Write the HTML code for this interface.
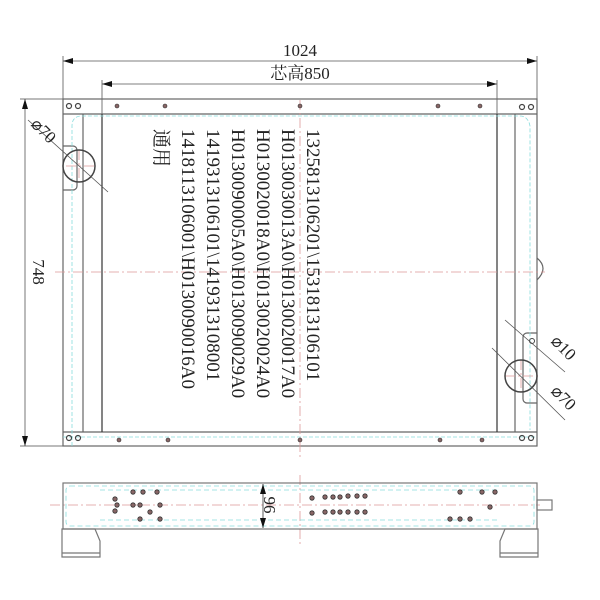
<!DOCTYPE html>
<html><head><meta charset="utf-8"><style>
html,body{margin:0;padding:0;background:#fff;width:600px;height:600px;overflow:hidden}
svg{display:block}
.t{font-family:"Liberation Serif","Noto Serif CJK SC",serif;fill:#222}
</style></head><body>
<svg width="600" height="600" viewBox="0 0 600 600" xmlns="http://www.w3.org/2000/svg">
<defs>
<marker id="a" viewBox="0 0 10 6" refX="10" refY="3" markerWidth="10" markerHeight="6" orient="auto-start-reverse" markerUnits="userSpaceOnUse"><path d="M0,0L10,3L0,6z" fill="#111"/></marker>
</defs>
<g stroke="#777" stroke-width="1" fill="none">
<line x1="63" y1="56" x2="63" y2="99"/>
<line x1="537" y1="56" x2="537" y2="99"/>
<line x1="102" y1="80" x2="102" y2="114"/>
<line x1="497" y1="80" x2="497" y2="114"/>
<line x1="20" y1="99" x2="63" y2="99"/>
<line x1="20" y1="446" x2="63" y2="446"/>
</g>
<g stroke="#555" stroke-width="0.8">
<line x1="63" y1="61" x2="537" y2="61" marker-start="url(#a)" marker-end="url(#a)"/>
<line x1="102" y1="84" x2="497" y2="84" marker-start="url(#a)" marker-end="url(#a)"/>
<line x1="25" y1="99" x2="25" y2="446" marker-start="url(#a)" marker-end="url(#a)"/>
</g>
<text class="t" x="300" y="56" font-size="17" text-anchor="middle">1024</text>
<text class="t" x="300" y="79" font-size="17" text-anchor="middle">芯高850</text>
<text class="t" transform="translate(33,272) rotate(90)" font-size="17" text-anchor="middle">748</text>

<g stroke="#666" stroke-width="1.2" fill="none">
<rect x="63" y="99" width="474" height="347"/>
<line x1="63" y1="114" x2="537" y2="114"/>
<line x1="63" y1="432" x2="537" y2="432"/>
<line x1="83" y1="114" x2="83" y2="432"/>
<line x1="515" y1="114" x2="515" y2="432"/>
<line x1="102" y1="114" x2="102" y2="432" stroke="#333"/>
<line x1="497" y1="114" x2="497" y2="432" stroke="#333"/>
<path d="M63,146 h10 a4,4 0 0 1 4,4 v36 a4,4 0 0 1 -4,4 h-10"/>
<path d="M537,333 h-10 a4,4 0 0 0 -4,4 v62 a4,4 0 0 0 4,4 h10"/>
<path d="M537,258 q12,10 0,22"/>
</g>
<g stroke="#8dd" stroke-width="0.8" fill="none" stroke-dasharray="4,2">
<path d="M72,446 V126 q0,-10 10,-10 H520 q8,0 10,10 V430"/>
<line x1="63" y1="437" x2="537" y2="437"/>
</g>
<g stroke="#d99" stroke-width="0.8" stroke-dasharray="10,3,2,3" fill="none">
<line x1="55" y1="272" x2="545" y2="272"/>
<line x1="300" y1="100" x2="300" y2="460"/>
<line x1="66" y1="166" x2="94" y2="166"/>
<line x1="79" y1="150" x2="79" y2="182"/>
<line x1="505" y1="376" x2="538" y2="376"/>
<line x1="521" y1="360" x2="521" y2="392"/>
<line x1="50" y1="505" x2="540" y2="505"/>
<line x1="300" y1="475" x2="300" y2="545"/>
</g>
<g stroke="#444" stroke-width="1.5" fill="none">
<circle cx="79" cy="166" r="16"/>
<circle cx="521" cy="376" r="16"/>
<circle cx="532" cy="341" r="2.5" stroke-width="1"/>
</g>
<g stroke="#555" stroke-width="0.8">
<line x1="28" y1="120" x2="108" y2="192"/>
<line x1="505" y1="320" x2="565" y2="372"/>
<line x1="492" y1="348" x2="565" y2="420"/>
</g>
<text class="t" transform="translate(30,125) rotate(45)" font-size="17">⌀70</text>
<text class="t" transform="translate(550,342) rotate(45)" font-size="17">⌀10</text>
<text class="t" transform="translate(550,392) rotate(45)" font-size="17">⌀70</text>

<g stroke="#444" stroke-width="1.2" fill="none">
<circle cx="69" cy="106" r="2.5"/><circle cx="78" cy="106" r="2.5"/>
<circle cx="522" cy="107" r="2.5"/><circle cx="531" cy="107" r="2.5"/>
<circle cx="69" cy="438" r="2.5"/><circle cx="78" cy="438" r="2.5"/>
<circle cx="522" cy="438" r="2.5"/><circle cx="531" cy="438" r="2.5"/>
</g>
<g fill="#866" stroke="#333" stroke-width="0.6">
<circle cx="117" cy="106" r="2"/><circle cx="165" cy="106" r="2"/><circle cx="300" cy="106" r="2"/>
<circle cx="438" cy="106" r="2"/><circle cx="480" cy="106" r="2"/>
<circle cx="119" cy="440" r="2"/><circle cx="168" cy="440" r="2"/><circle cx="300" cy="440" r="2"/>
<circle cx="440" cy="440" r="2"/><circle cx="482" cy="440" r="2"/>
</g>

<g class="t" font-size="19">
<text transform="translate(307,129) rotate(90)">1325813106201\1531813106101</text>
<text transform="translate(282,129) rotate(90)">H0130030013A0\H0130020017A0</text>
<text transform="translate(257,129) rotate(90)">H0130020018A0\H0130020024A0</text>
<text transform="translate(232,129) rotate(90)">H0130090005A0\H0130090029A0</text>
<text transform="translate(207,129) rotate(90)">1419313106101\1419313108001</text>
<text transform="translate(182,129) rotate(90)">1418113106001\H0130090016A0</text>
<text transform="translate(155,129) rotate(90)">通用</text>
</g>

<g stroke="#777" stroke-width="1.2" fill="none">
<rect x="63" y="483" width="474" height="46"/>
<path d="M62,529 h33 l5,12 v16 h-38z"/>
<path d="M538,529 h-33 l-5,12 v16 h38z"/>
<line x1="62" y1="553" x2="100" y2="553"/>
<line x1="500" y1="553" x2="538" y2="553"/>
<rect x="537" y="500" width="15" height="10"/>
</g>
<g stroke="#8dd" stroke-width="0.8" fill="none" stroke-dasharray="5,3">
<rect x="66" y="486" width="468" height="40" rx="4"/>
<line x1="100" y1="490" x2="500" y2="490"/>
<line x1="100" y1="520" x2="500" y2="520"/>
</g>
<line x1="263" y1="484" x2="263" y2="528" stroke="#333" stroke-width="0.8" marker-start="url(#a)" marker-end="url(#a)"/>
<text class="t" transform="translate(264,505) rotate(90)" font-size="17" text-anchor="middle">96</text>
<g fill="#866" stroke="#333" stroke-width="0.8">
<circle cx="115" cy="499" r="2.2"/><circle cx="117" cy="505" r="2.2"/><circle cx="115" cy="511" r="2.2"/>
<circle cx="133" cy="492" r="2.2"/><circle cx="143" cy="492" r="2.2"/><circle cx="157" cy="492" r="2.2"/>
<circle cx="133" cy="505" r="2.2"/><circle cx="140" cy="505" r="2.2"/><circle cx="160" cy="505" r="2.2"/>
<circle cx="150" cy="512" r="2.2"/><circle cx="140" cy="519" r="2.2"/><circle cx="160" cy="519" r="2.2"/>
<circle cx="312" cy="498" r="2.2"/><circle cx="325" cy="497" r="2.2"/><circle cx="333" cy="497" r="2.2"/><circle cx="340" cy="497" r="2.2"/><circle cx="348" cy="496" r="2.2"/><circle cx="357" cy="496" r="2.2"/><circle cx="365" cy="496" r="2.2"/>
<circle cx="312" cy="513" r="2.2"/><circle cx="325" cy="512" r="2.2"/><circle cx="333" cy="512" r="2.2"/><circle cx="340" cy="512" r="2.2"/><circle cx="348" cy="512" r="2.2"/><circle cx="357" cy="512" r="2.2"/><circle cx="365" cy="512" r="2.2"/>
<circle cx="460" cy="492" r="2.2"/><circle cx="482" cy="492" r="2.2"/><circle cx="495" cy="492" r="2.2"/>
<circle cx="490" cy="507" r="2.2"/>
<circle cx="450" cy="519" r="2.2"/><circle cx="460" cy="519" r="2.2"/><circle cx="470" cy="519" r="2.2"/>
</g>
</svg>
</body></html>
